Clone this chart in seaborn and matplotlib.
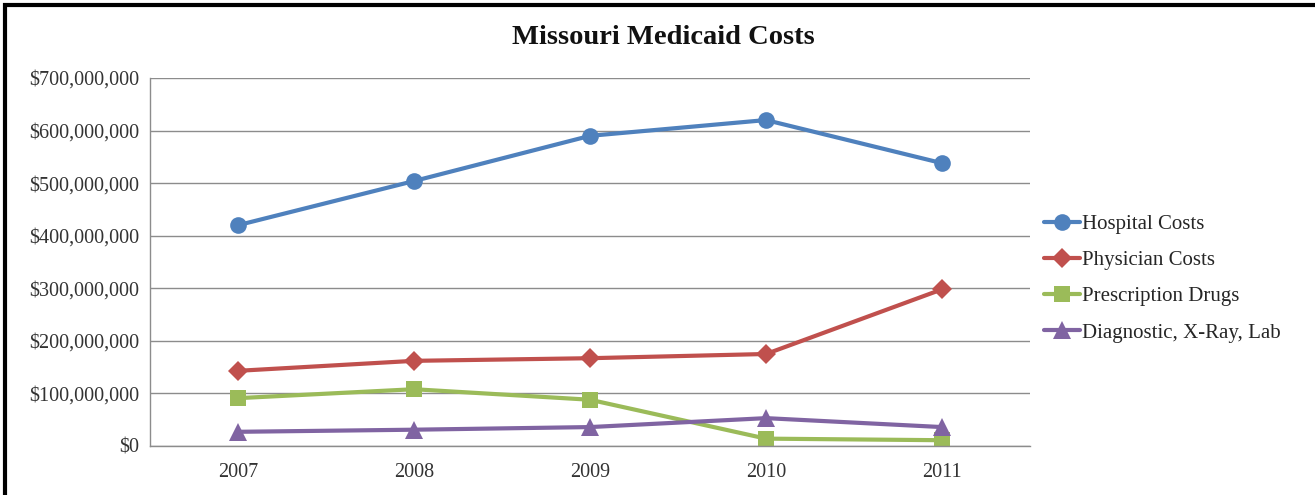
import matplotlib
matplotlib.use("Agg")
from matplotlib import pyplot as plt
from matplotlib.ticker import FuncFormatter
import seaborn as sns
import pandas as pd

anos = ['2007', '2008', '2009', '2010', '2011']
hospital = [420e6, 504e6, 590e6, 620e6, 538e6]
medicos = [143e6, 162e6, 167e6, 175e6, 298e6]
remedios = [91e6, 108e6, 88e6, 14e6, 11e6]
diagnostico = [27e6, 31e6, 36e6, 53e6, 36e6]

series = ['Hospital Costs', 'Physician Costs', 'Prescription Drugs', 'Diagnostic, X-Ray, Lab']
cores = ['#4F81BD', '#C0504D', '#9BBB59', '#8064A2']
marcadores = ['o', 'D', 's', '^']
tamanhos = [12, 10, 12, 13]

df = pd.DataFrame({'ano': anos, series[0]: hospital, series[1]: medicos,
                   series[2]: remedios, series[3]: diagnostico})
df_long = df.melt(id_vars='ano', var_name='serie', value_name='valor')
df_long['pos'] = df_long['ano'].map({a: i for i, a in enumerate(anos)})

sns.set_theme(style="white")
plt.rcParams['font.family'] = ['Liberation Serif', 'DejaVu Serif']

fig = plt.figure(figsize=(13.15, 4.95), dpi=100)
ax = fig.add_axes([150 / 1315, 49 / 495, 880 / 1315, 368 / 495])

for nome, cor, m, ms in zip(series, cores, marcadores, tamanhos):
    sub = df_long[df_long['serie'] == nome]
    sns.lineplot(data=sub, x='pos', y='valor', ax=ax, color=cor, marker=m,
                 markersize=ms, markeredgewidth=0, linewidth=3, label=nome)

ax.set_xlim(-0.5, 4.5)
ax.set_ylim(0, 700e6)
ax.set_yticks([i * 100e6 for i in range(8)])
ax.yaxis.set_major_formatter(FuncFormatter(lambda v, p: '${:,.0f}'.format(v)))
ax.set_xticks(range(len(anos)))
ax.set_xticklabels(anos)
ax.set_xlabel('')
ax.set_ylabel('')
ax.grid(axis='y', color='#8C8C8C', linewidth=1)
ax.set_axisbelow(True)
for lado in ['top', 'right']:
    ax.spines[lado].set_visible(False)
for lado in ['left', 'bottom']:
    ax.spines[lado].set_color('#8C8C8C')
    ax.spines[lado].set_linewidth(1)
ax.tick_params(axis='both', length=0, labelsize=14.5, colors='#333333', pad=8)
ax.tick_params(axis='x', pad=12)

fig.text(663 / 1315, 1 - 37 / 495, 'Missouri Medicaid Costs', fontsize=20.5,
         fontweight='bold', ha='center', va='center', color='#111111')

leg = ax.legend(loc='center left', bbox_to_anchor=(1.0, 0.455), frameon=False,
                fontsize=15, handlelength=1.75, handletextpad=0.1, labelspacing=0.8,
                borderaxespad=0.25)

fig.patches.append(plt.Rectangle((5 / 1315, -0.02), 1.02, 1.02 - 5 / 495,
                                 transform=fig.transFigure, fill=False,
                                 edgecolor='black', linewidth=3))

plt.savefig('out.png', dpi=100)
